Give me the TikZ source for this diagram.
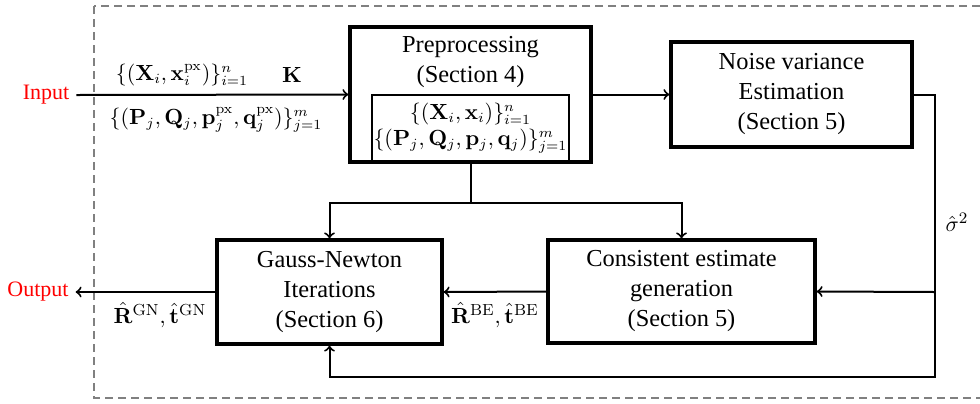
\documentclass[tikz,border=0pt]{standalone}
\usepackage{amsmath}
\usepackage{amssymb}
\usepackage[no-math]{fontspec}
\setmainfont{Liberation Serif}
\usetikzlibrary{positioning, calc}
\def\boxw{1.6pt}
\tikzset{block/.style={draw, line width=\boxw, align=center, inner sep=0pt},
         conn/.style={line width=1pt, ->},
         wire/.style={line width=1pt},
         frame/.style={draw=gray, line width=0.8pt, dash pattern=on 4pt off 2.5pt},
         lbl/.style={inner sep=1pt, font=\fontsize{10.5}{13}\selectfont},
         est/.style={inner sep=1pt, font=\fontsize{11}{13}\selectfont},
         io/.style={text=red, font=\fontsize{11}{13}\selectfont}}

\begin{document}
\begin{tikzpicture}[x=0.5pt, y=-0.5pt, font=\fontsize{12.2}{15}\selectfont]
      \useasboundingbox (0,0) rectangle (980,403);
      % Frame
      \draw[frame] (94,6) rectangle (990,398);

      % Blocks
      \node[block, minimum width=120.5pt, minimum height=67.5pt] (prep) at (470.5,94.5) {};
      \node[align=center] (preptitle) at (470.5,62) {Preprocessing\\(Section 4)};
      \node[block, lbl, line width=0.8pt, inner sep=0pt, minimum width=98.5pt, minimum height=33.5pt] (prepin) at (470.5,128.2)
          {$\{(\mathbf{X}_i,\mathbf{x}_i)\}_{i=1}^{n}$\\$\{(\mathbf{P}_j,\mathbf{Q}_j,\mathbf{p}_j,\mathbf{q}_j)\}_{j=1}^{m}$};
      \node[block, minimum width=120.5pt, minimum height=52.5pt] (noise) at (791.5,94.5)
          {Noise variance\\Estimation\\(Section 5)};
      \node[block, minimum width=112.5pt, minimum height=52pt] (gn) at (329.5,292)
          {Gauss-Newton\\Iterations\\(Section 6)};
      \node[block, minimum width=133.5pt, minimum height=51.5pt] (ce) at (681.5,291.5)
          {Consistent estimate\\generation\\(Section 5)};

      % Input / output
      \node[io] (in) at (46,95) {Input};
      \node[io] (out) at (38,292) {Output};

      % Labels
      \node[lbl] (lblpts) at (182,75) {$\{(\mathbf{X}_i,\mathbf{x}_i^{\mathrm{px}})\}_{i=1}^{n}$};
      \node[lbl] (lblK) at (292,75) {$\mathbf{K}$};
      \node[lbl] (lbllines) at (216,120) {$\{(\mathbf{P}_j,\mathbf{Q}_j,\mathbf{p}_j^{\mathrm{px}},\mathbf{q}_j^{\mathrm{px}})\}_{j=1}^{m}$};
      \node[est] (lblgn) at (160,315) {$\hat{\mathbf{R}}^{\mathrm{GN}},\hat{\mathbf{t}}^{\mathrm{GN}}$};
      \node[est] (lblbe) at (495,315) {$\hat{\mathbf{R}}^{\mathrm{BE}},\hat{\mathbf{t}}^{\mathrm{BE}}$};
      \node[est] (lblsig) at (957,222) {$\hat{\sigma}^2$};

      % Connectors
      \draw[conn] (in.east) -- (prep.west);
      \draw[conn] (prep.east) -- (noise.west);
      \draw[wire] (prep.south) -- ++(0,39) coordinate (split);
      \draw[conn] (split) -| (gn.north);
      \draw[conn] (split) -| (ce.north);
      \draw[conn] (ce.west) -- (gn.east);
      \draw[conn] (gn.west) -- (out.east);
      \coordinate (loop) at (935,377);
      \coordinate (tap) at (935,292);
      \draw[conn] (noise.east) -| (loop) -| (gn.south);
      \draw[conn] (tap) -- (ce.east);
\end{tikzpicture}
\end{document}
